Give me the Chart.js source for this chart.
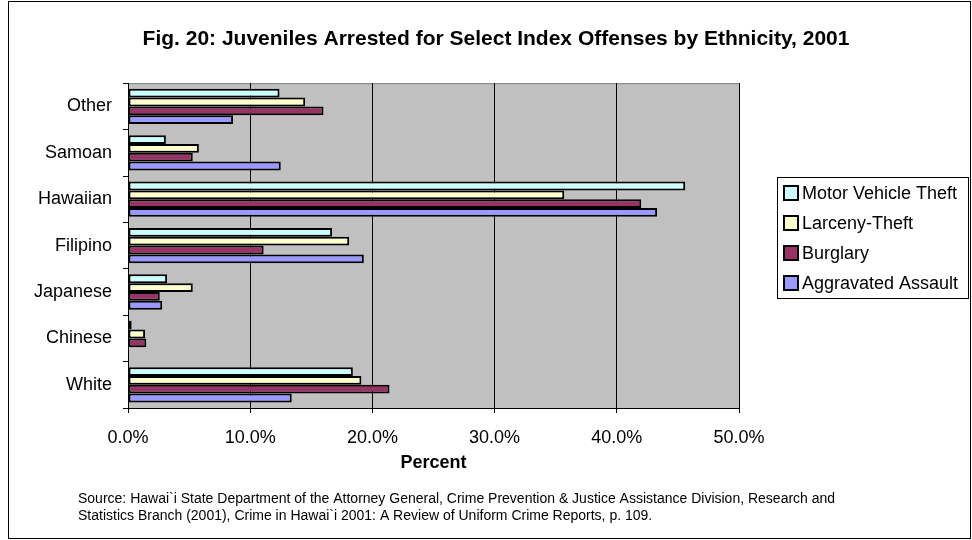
<!DOCTYPE html>
<html>
<head>
<meta charset="utf-8">
<script src="https://cdn.jsdelivr.net/npm/chart.js@4/dist/chart.umd.min.js"></script>
<style>
    body { margin: 0; background: #fff; }
</style>
</head>
<body>
<canvas id="barChart" width="972" height="540"></canvas>
<script>
const categories = ['Other', 'Samoan', 'Hawaiian', 'Filipino', 'Japanese', 'Chinese', 'White'];
const motorVehicleTheft = [12.4, 3.1, 45.6, 16.7, 3.2, 0.3, 18.4];
const larcenyTheft = [14.5, 5.8, 35.7, 18.1, 5.3, 1.4, 19.1];
const burglary = [16.0, 5.3, 42.0, 11.1, 2.6, 1.5, 21.4];
const aggravatedAssault = [8.6, 12.5, 43.3, 19.3, 2.8, 0, 13.4];

const seriesNames = ['Motor Vehicle Theft', 'Larceny-Theft', 'Burglary', 'Aggravated Assault'];
const seriesColors = ['#CCFFFF', '#FFFFCC', '#993366', '#9999FF'];
const xTicks = [0, 10, 20, 30, 40, 50];

const titleText = 'Fig. 20: Juveniles Arrested for Select Index Offenses by Ethnicity, 2001';
const sourceLines = [
    'Source: Hawai`i State Department of the Attorney General, Crime Prevention & Justice Assistance Division, Research and',
    'Statistics Branch (2001), Crime in Hawai`i 2001: A Review of Uniform Crime Reports, p. 109.'
];

const FONT = '"Liberation Sans", Arial, sans-serif';

function makeDataset(i, values) {
    return {
        label: seriesNames[i],
        data: values,
        backgroundColor: seriesColors[i],
        borderColor: '#000',
        borderWidth: 2,
        borderSkipped: false,
        categoryPercentage: 0.76,
        barPercentage: 1.0
    };
}

// plot area background, outer frame, boxed legend and source note
const decorations = {
    id: 'decorations',
    beforeDraw(chart) {
        const ctx = chart.ctx;
        const a = chart.chartArea;
        ctx.save();
        ctx.fillStyle = '#C0C0C0';
        ctx.fillRect(a.left, a.top, a.right - a.left, a.bottom - a.top);
        ctx.strokeStyle = '#808080';
        ctx.lineWidth = 1;
        ctx.strokeRect(a.left + 0.5, a.top + 0.5, a.right - a.left, a.bottom - a.top);
        ctx.restore();
    },
    afterDraw(chart) {
        const ctx = chart.ctx;
        ctx.save();
        ctx.strokeStyle = '#000';
        ctx.lineWidth = 1;
        ctx.strokeRect(8.5, 1.5, 962, 537);

        // legend
        ctx.strokeRect(777.5, 177.5, 191, 121);
        ctx.font = '18px ' + FONT;
        ctx.textBaseline = 'middle';
        ctx.textAlign = 'left';
        chart.data.datasets.forEach((ds, i) => {
            const cy = 193 + i * 30;
            ctx.fillStyle = ds.backgroundColor;
            ctx.fillRect(784, cy - 7, 14, 14);
            ctx.lineWidth = 2;
            ctx.strokeStyle = '#000';
            ctx.strokeRect(784, cy - 7, 14, 14);
            ctx.fillStyle = '#000';
            ctx.fillText(ds.label, 802, cy + 1);
        });

        // source note
        ctx.font = '14px ' + FONT;
        sourceLines.forEach((line, i) => {
            ctx.fillText(line, 78, 499 + i * 17);
        });
        ctx.restore();
    }
};

const ctx = document.getElementById('barChart').getContext('2d');
const barChart = new Chart(ctx, {
    type: 'bar',
    data: {
        labels: categories,
        datasets: [
            makeDataset(0, motorVehicleTheft),
            makeDataset(1, larcenyTheft),
            makeDataset(2, burglary),
            makeDataset(3, aggravatedAssault)
        ]
    },
    options: {
        indexAxis: 'y',
        responsive: false,
        animation: false,
        layout: { padding: { left: 20, right: 0, top: 0, bottom: 61 } },
        scales: {
            x: {
                min: 0,
                max: 50,
                afterBuildTicks: scale => { scale.ticks = xTicks.map(v => ({ value: v })); },
                afterFit: scale => { scale.height = 71; },
                ticks: {
                    color: '#000',
                    font: { family: FONT, size: 18 },
                    padding: 14,
                    callback: v => v.toFixed(1) + '%'
                },
                grid: { color: '#000', lineWidth: 1, tickLength: 5 },
                border: { color: '#000', width: 1 },
                title: {
                    display: true,
                    text: 'Percent',
                    color: '#000',
                    font: { family: FONT, size: 18, weight: 'bold' },
                    padding: { top: 0, bottom: 5 }
                }
            },
            y: {
                afterFit: scale => { scale.width = 108; },
                ticks: {
                    color: '#000',
                    font: { family: FONT, size: 18 },
                    padding: 11
                },
                grid: { drawOnChartArea: false, drawTicks: true, tickLength: 5, color: '#000', offset: true },
                border: { color: '#000', width: 1 }
            },
            yRightSpace: {
                type: 'category',
                position: 'right',
                afterFit: scale => { scale.width = 233; },
                ticks: { display: false },
                grid: { display: false },
                border: { display: false }
            }
        },
        plugins: {
            legend: { display: false },
            tooltip: { enabled: false },
            title: {
                display: true,
                text: titleText,
                color: '#000',
                font: { family: FONT, size: 21, weight: 'bold' },
                padding: { top: 27, bottom: 31 }
            }
        }
    },
    plugins: [decorations]
});
</script>
</body>
</html>
